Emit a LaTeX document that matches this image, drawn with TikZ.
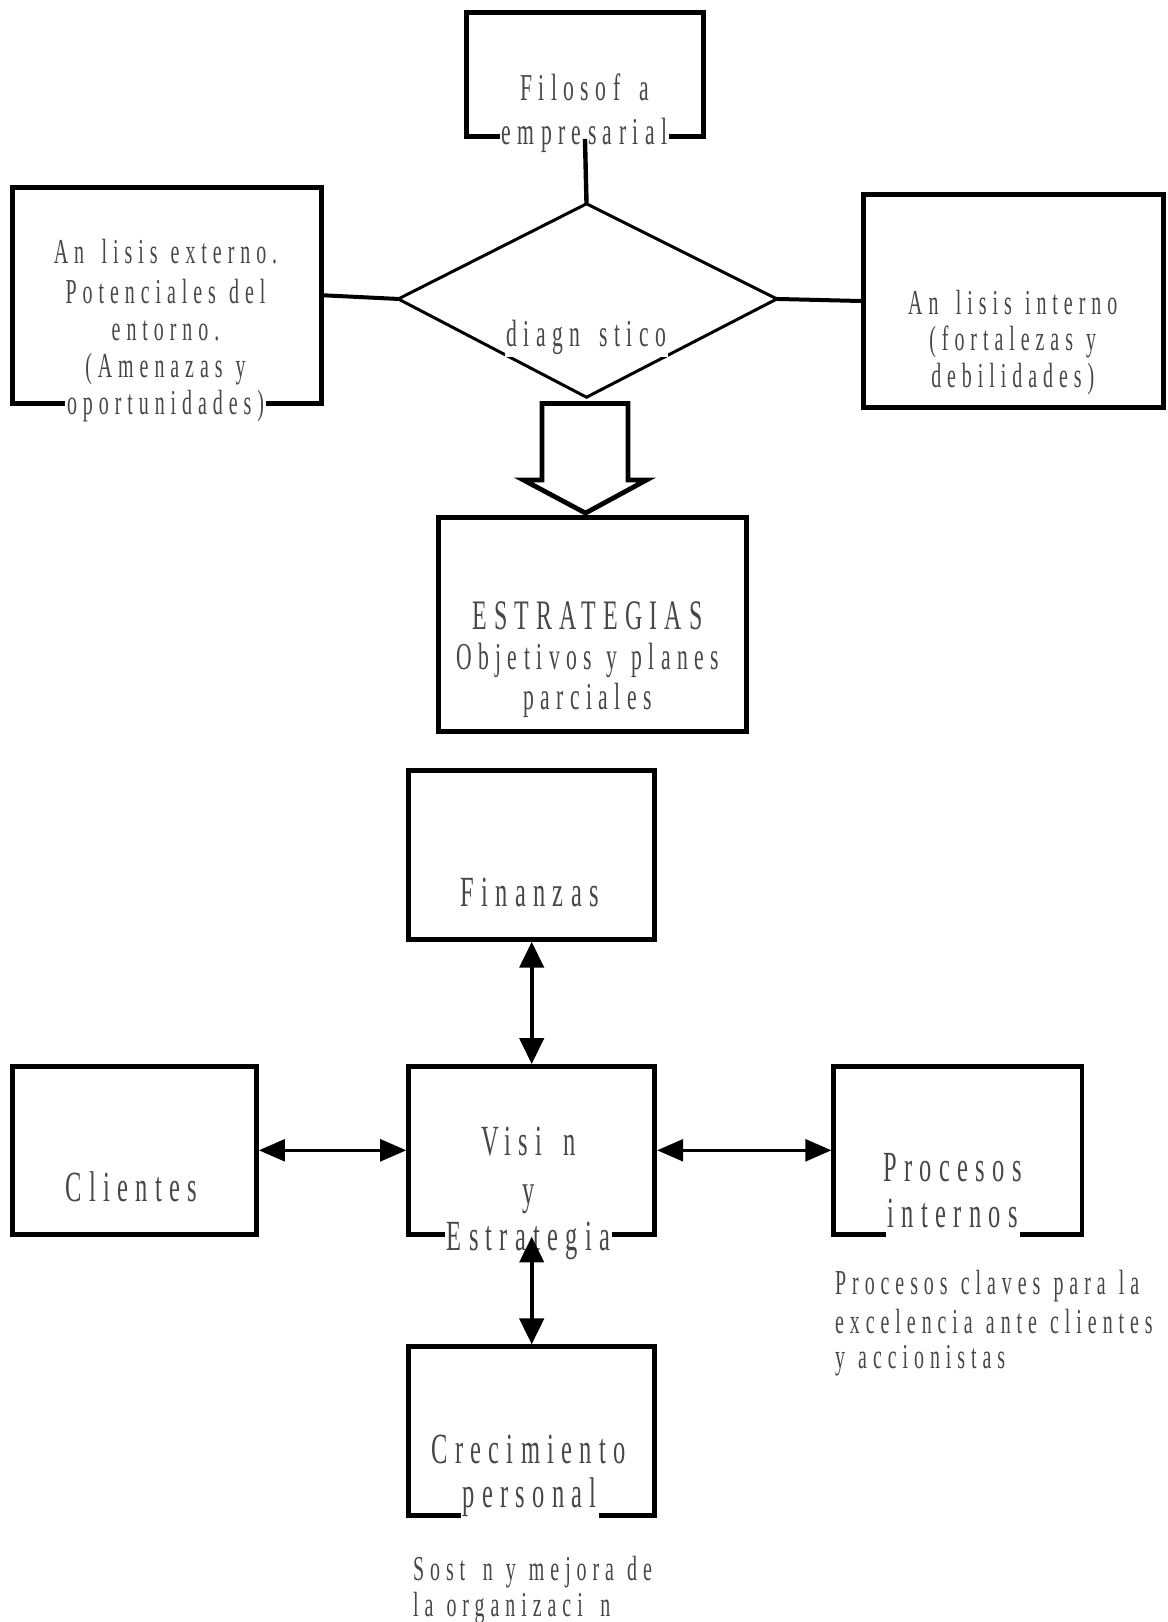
\documentclass[tikz,border=0pt]{standalone}
\usepackage{fontspec}
\newfontfamily\dfont{Liberation Serif}[FakeStretch=0.57,LetterSpace=17,WordSpace=1.2]
\newcommand\gp{\hspace{0.5em}}
\usetikzlibrary{arrows.meta,fit}
\begin{document}
\begin{tikzpicture}[x=0.5173pt,y=-0.5173pt,
  box/.style={draw, line width=2.4pt, inner sep=0pt},
  lbl/.style={text=black!72, inner sep=1pt},
  fs/.style={font=\dfont\fontsize{17.5}{20}\selectfont, text height=11.9pt, text depth=3.9pt},
  fm/.style={font=\dfont\fontsize{19}{22}\selectfont, text height=12.9pt, text depth=4.2pt},
  fb/.style={font=\dfont\fontsize{21}{24}\selectfont, text height=14.2pt, text depth=4.6pt},
  fl/.style={font=\dfont\fontsize{21.5}{24}\selectfont, text height=14.6pt, text depth=4.7pt},
  cut/.style={fill=white, inner ysep=2.5pt},
  link/.style={line width=2.2pt},
  tip/.tip={Triangle[length=13pt,width=12pt]},
  vlink/.style={tip-tip, line width=2.2pt},
  hlink/.style={{Triangle[length=13pt,width=11pt]}-{Triangle[length=13pt,width=11pt]}, line width=1.3pt}]

\useasboundingbox[fill=white] (0,0) rectangle (1129,1568);

% ---------- upper part: diagnosis ----------
\node[box, fit={(451,12) (680,132)}] (filo) {};
\node[box, fit={(12,181) (311,390)}] (aext) {};
\node[box, fit={(835,188) (1125,394)}] (aint) {};
\node[box, fit={(424,500) (722,707)}] (estr) {};

\coordinate (dN) at (567,197);
\coordinate (dW) at (385,289);
\coordinate (dE) at (751,289);
\coordinate (dS) at (567,384);
\draw[line width=1.5pt, line join=miter] (dN) -- (dE) -- (dS) -- (dW) -- cycle;

\node[lbl, fm] (filo1) at (565,89) {Filosof\gp a};
\node[lbl, fm, cut] (filo2) at (565,131) {empresarial};

\node[lbl, fs] (aext1) at (160,247) {An\gp lisis externo.};
\node[lbl, fs] (aext2) at (160,286) {Potenciales del};
\node[lbl, fs] (aext3) at (160,321) {entorno.};
\node[lbl, fs] (aext4) at (160,357) {(Amenazas y};
\node[lbl, fs, cut] (aext5) at (160,393) {oportunidades)};

\node[lbl, fs] (aint1) at (979,296) {An\gp lisis interno};
\node[lbl, fs] (aint2) at (979,331) {(fortalezas y};
\node[lbl, fs] (aint3) at (979,367) {debilidades)};

\node[lbl, fm, fill=white] (diagtxt) at (567,327) {diagn\gp stico};

\node[lbl, fb] (estr1) at (568,599) {ESTRATEGIAS};
\node[lbl, fm] (estr2) at (568,639) {Objetivos y planes};
\node[lbl, fm] (estr3) at (568,677) {parciales};

\draw[link] (filo.south) -- (dN);
\draw[line width=2pt] (aext.east) -- (dW);
\draw[line width=2pt] (dE) -- (aint.west);

% hollow arrow from the diagnosis down to the strategies
\draw[line width=2.4pt, line join=miter]
  (524,390) -- (607,390) -- (607,464) -- (625,464) -- (566,496)
  -- (506,464) -- (524,464) -- cycle;

% ---------- lower part: scorecard ----------
\node[box, fit={(395,745) (633,908)}] (fin) {};
\node[box, fit={(395,1031) (633,1193)}] (vis) {};
\node[box, fit={(12,1031) (248,1193)}] (cli) {};
\node[box, fit={(806,1031) (1046,1193)}] (proc) {};
\node[box, fit={(395,1302) (633,1465)}] (crec) {};

\node[lbl, fl] (fin1) at (512,867) {Finanzas};

\node[lbl, fl] (vis1) at (511,1107) {Visi\gp n};
\node[lbl, fl] (vis2) at (511,1155) {y};
\node[lbl, fl, cut] (vis3) at (511,1199) {Estrategia};

\node[lbl, fl] (cli1) at (127,1152) {Clientes};

\node[lbl, fl] (proc1) at (921,1133) {Procesos};
\node[lbl, fl, cut] (proc2) at (921,1177) {internos};

\node[lbl, fl] (crec1) at (511,1405) {Crecimiento};
\node[lbl, fl, cut] (crec2) at (512,1448) {personal};

\node[lbl, fs, anchor=west] (pnote1) at (805,1244) {Procesos claves para la};
\node[lbl, fs, anchor=west] (pnote2) at (805,1281) {excelencia ante clientes};
\node[lbl, fs, anchor=west] (pnote3) at (805,1315) {y accionistas};

\node[lbl, fs, anchor=west] (cnote1) at (397,1520) {Sost\gp n y mejora de};
\node[lbl, fs, anchor=west] (cnote2) at (397,1555) {la organizaci\gp n};

\draw[vlink] (fin.south) -- (vis.north);
\draw[vlink] (vis.south) -- (crec.north);
\draw[hlink] (cli.east) -- (vis.west);
\draw[hlink] (vis.east) -- (proc.west);
\end{tikzpicture}
\end{document}
